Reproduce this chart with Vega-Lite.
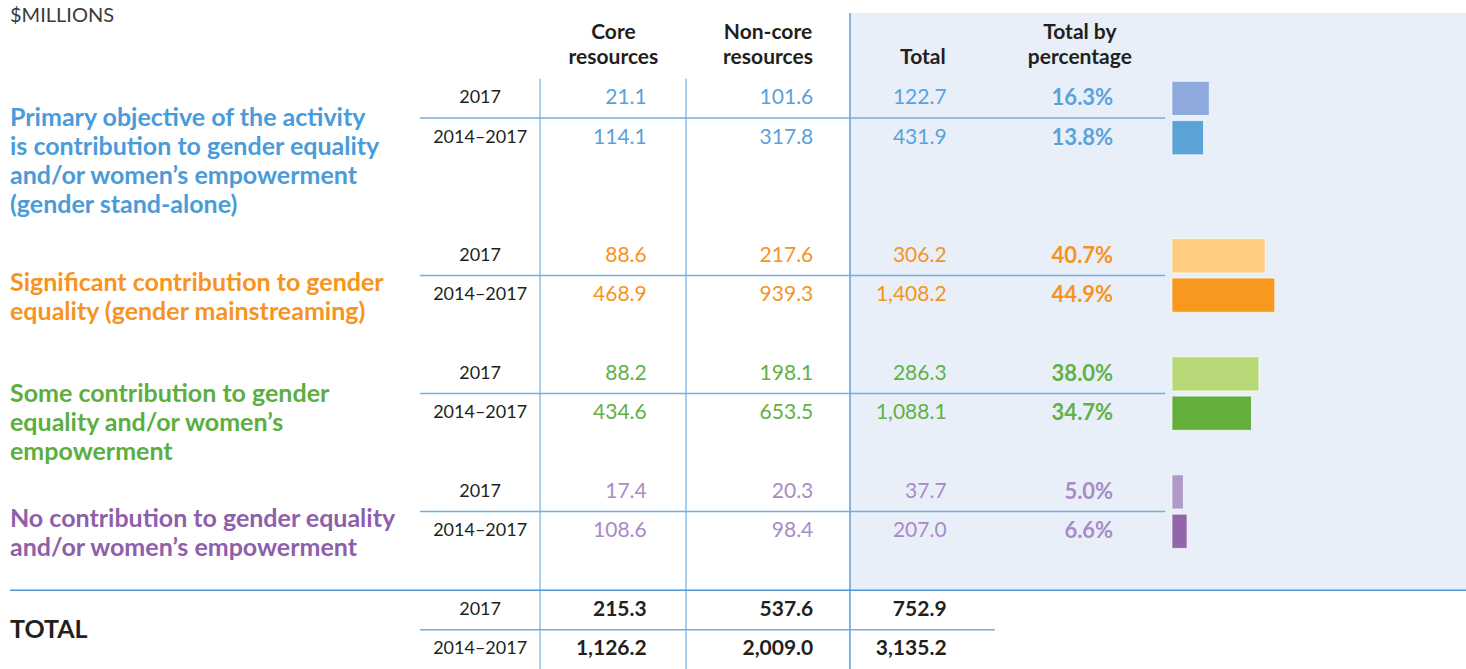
{
  "$schema": "https://vega.github.io/schema/vega-lite/v6.json",
  "width": 1466,
  "height": 669,
  "padding": 0,
  "autosize": {"type": "none"},
  "background": "#ffffff",
  "config": {
    "view": {"stroke": null},
    "axis": {"disable": true},
    "legend": {"disable": true},
    "scale": {"bandPaddingInner": 0, "bandPaddingOuter": 0},
    "text": {"font": "Lato"}
  },
  "datasets": {
    "rows": [
      {"grp": "g1", "period": "2017", "row": "g1a", "core": 21.1, "noncore": 101.6, "total": 122.7, "pct": 0.163},
      {"grp": "g1", "period": "2014–2017", "row": "g1b", "core": 114.1, "noncore": 317.8, "total": 431.9, "pct": 0.138},
      {"grp": "g2", "period": "2017", "row": "g2a", "core": 88.6, "noncore": 217.6, "total": 306.2, "pct": 0.407},
      {"grp": "g2", "period": "2014–2017", "row": "g2b", "core": 468.9, "noncore": 939.3, "total": 1408.2, "pct": 0.449},
      {"grp": "g3", "period": "2017", "row": "g3a", "core": 88.2, "noncore": 198.1, "total": 286.3, "pct": 0.380},
      {"grp": "g3", "period": "2014–2017", "row": "g3b", "core": 434.6, "noncore": 653.5, "total": 1088.1, "pct": 0.347},
      {"grp": "g4", "period": "2017", "row": "g4a", "core": 17.4, "noncore": 20.3, "total": 37.7, "pct": 0.050},
      {"grp": "g4", "period": "2014–2017", "row": "g4b", "core": 108.6, "noncore": 98.4, "total": 207.0, "pct": 0.066},
      {"grp": "tot", "period": "2017", "row": "ta", "core": 215.3, "noncore": 537.6, "total": 752.9},
      {"grp": "tot", "period": "2014–2017", "row": "tb", "core": 1126.2, "noncore": 2009.0, "total": 3135.2}
    ],
    "labels": [
      {"grp": "g1", "row": "g1b", "text": "Primary objective of the activity\nis contribution to gender equality\nand/or women’s empowerment\n(gender stand-alone)"},
      {"grp": "g2", "row": "g2b", "text": "Significant contribution to gender\nequality (gender mainstreaming)"},
      {"grp": "g3", "row": "g3b", "text": "Some contribution to gender\nequality and/or women’s\nempowerment"},
      {"grp": "g4", "row": "g4b", "text": "No contribution to gender equality\nand/or women’s empowerment"},
      {"grp": "tot", "row": "tb", "text": "TOTAL"}
    ]
  },
  "layer": [
    {
      "layer": [
        {
          "data": {"values": [{}]},
          "mark": {"type": "rect", "fill": "#e8eff9"},
          "encoding": {
            "x": {"datum": "v3", "type": "nominal", "bandPosition": 0.51, "axis": null,
              "scale": {"type": "band", "paddingInner": 0, "paddingOuter": 0, "domain": ["label","s1","s2","s3","s4","s5","s6","s7","s8","s9","s10","s11","sepL","s13","year","s15","v1","s17","coreH","core","v2","s21","s22","nonH","noncore","v3","s26","totH","total","totEnd","s30","s31","pctH","pct","sepR","s35","s36","s37","s38","s39","s40","s41","s42","right"]}},
            "x2": {"datum": "right", "bandPosition": 1},
            "y": {"datum": "t0", "type": "nominal", "bandPosition": 0.33, "axis": null,
              "scale": {"type": "band", "paddingInner": 0, "paddingOuter": 0, "domain": ["t0","h","g1a","g1b","g1c","g1d","g2a","g2b","g2c","g3a","g3b","g3c","g4a","g4b","g4c","ta","tb"]}},
            "y2": {"datum": "g4c", "bandPosition": 1}
          }
        },
        {
          "data": {"values": [{}]},
          "mark": {"type": "rule", "color": "#8fc0e8", "strokeWidth": 1.5},
          "encoding": {
            "x": {"datum": "v1", "type": "nominal", "bandPosition": 0.21},
            "y": {"datum": "g1a", "type": "nominal", "bandPosition": 0},
            "y2": {"datum": "tb", "bandPosition": 1}
          }
        },
        {
          "data": {"values": [{}]},
          "mark": {"type": "rule", "color": "#8fc0e8", "strokeWidth": 1.5},
          "encoding": {
            "x": {"datum": "v2", "type": "nominal", "bandPosition": 0.59},
            "y": {"datum": "g1a", "type": "nominal", "bandPosition": 0},
            "y2": {"datum": "tb", "bandPosition": 1}
          }
        },
        {
          "data": {"values": [{}]},
          "mark": {"type": "rule", "color": "#5b9fd8", "strokeWidth": 1.5},
          "encoding": {
            "x": {"datum": "v3", "type": "nominal", "bandPosition": 0.51},
            "y": {"datum": "t0", "type": "nominal", "bandPosition": 0.33},
            "y2": {"datum": "tb", "bandPosition": 1}
          }
        },
        {
          "data": {"name": "rows"},
          "transform": [{"filter": "datum.grp != 'tot' && datum.period == '2017'"}],
          "mark": {"type": "rule", "color": "#72aee0", "strokeWidth": 1.5},
          "encoding": {
            "y": {"field": "row", "type": "nominal", "bandPosition": 1},
            "x": {"datum": "sepL", "type": "nominal", "bandPosition": 0.61},
            "x2": {"datum": "sepR", "bandPosition": 0.97}
          }
        },
        {
          "data": {"name": "rows"},
          "transform": [{"filter": "datum.grp == 'tot' && datum.period == '2017'"}],
          "mark": {"type": "rule", "color": "#72aee0", "strokeWidth": 1.5},
          "encoding": {
            "y": {"field": "row", "type": "nominal", "bandPosition": 1},
            "x": {"datum": "sepL", "type": "nominal", "bandPosition": 0.61},
            "x2": {"datum": "totEnd", "bandPosition": 0.86}
          }
        },
        {
          "data": {"values": [{}]},
          "mark": {"type": "rule", "color": "#4a98d8", "strokeWidth": 1.5},
          "encoding": {
            "y": {"datum": "g4c", "type": "nominal", "bandPosition": 1},
            "x": {"datum": "label", "type": "nominal", "bandPosition": 0.3},
            "x2": {"datum": "right", "bandPosition": 1}
          }
        },
        {
          "data": {"values": [{}]},
          "mark": {"type": "text", "align": "left", "baseline": "middle", "fontSize": 20, "color": "#3a3a3a"},
          "encoding": {
            "x": {"datum": "label", "type": "nominal", "bandPosition": 0.3},
            "y": {"datum": "t0", "type": "nominal", "bandPosition": 0.4},
            "text": {"value": "$MILLIONS"}
          }
        },
        {
          "data": {"values": [{}]},
          "mark": {"type": "text", "align": "center", "baseline": "middle", "fontSize": 21, "fontWeight": "bold", "color": "#231f20", "lineHeight": 25},
          "encoding": {
            "x": {"datum": "coreH", "type": "nominal", "bandPosition": 0.41},
            "y": {"datum": "t0", "type": "nominal", "bandPosition": 0.84},
            "text": {"value": ["Core", "resources"]}
          }
        },
        {
          "data": {"values": [{}]},
          "mark": {"type": "text", "align": "center", "baseline": "middle", "fontSize": 21, "fontWeight": "bold", "color": "#231f20", "lineHeight": 25},
          "encoding": {
            "x": {"datum": "nonH", "type": "nominal", "bandPosition": 0.05},
            "y": {"datum": "t0", "type": "nominal", "bandPosition": 0.84},
            "text": {"value": ["Non-core", "resources"]}
          }
        },
        {
          "data": {"values": [{}]},
          "mark": {"type": "text", "align": "center", "baseline": "middle", "fontSize": 21, "fontWeight": "bold", "color": "#231f20"},
          "encoding": {
            "x": {"datum": "totH", "type": "nominal", "bandPosition": 0.7},
            "y": {"datum": "h", "type": "nominal", "bandPosition": 0.48},
            "text": {"value": "Total"}
          }
        },
        {
          "data": {"values": [{}]},
          "mark": {"type": "text", "align": "center", "baseline": "middle", "fontSize": 21, "fontWeight": "bold", "color": "#231f20", "lineHeight": 25},
          "encoding": {
            "x": {"datum": "pctH", "type": "nominal", "bandPosition": 0.41},
            "y": {"datum": "t0", "type": "nominal", "bandPosition": 0.84},
            "text": {"value": ["Total by", "percentage"]}
          }
        },
        {
          "data": {"name": "rows"},
          "mark": {"type": "text", "align": "center", "baseline": "middle", "fontSize": 18, "color": "#231f20"},
          "encoding": {
            "x": {"datum": "year", "type": "nominal", "bandPosition": 0.41},
            "y": {"field": "row", "type": "nominal"},
            "text": {"field": "period"}
          }
        },
        {
          "data": {"name": "rows"},
          "transform": [
            {"filter": "datum.grp != 'tot'"},
            {"fold": ["core", "noncore", "total"], "as": ["col", "val"]}
          ],
          "mark": {"type": "text", "align": "right", "baseline": "middle", "fontSize": 21},
          "encoding": {
            "x": {"field": "col", "type": "nominal", "bandPosition": 0.41},
            "y": {"field": "row", "type": "nominal"},
            "text": {"field": "val", "type": "quantitative", "format": ",.1f"},
            "color": {"field": "grp", "type": "nominal", "legend": null,
              "scale": {"domain": ["g1", "g2", "g3", "g4"], "range": ["#5aa2db", "#f7941d", "#62b146", "#a98bc7"]}}
          }
        },
        {
          "data": {"name": "rows"},
          "transform": [{"filter": "datum.grp != 'tot'"}],
          "mark": {"type": "text", "align": "right", "baseline": "middle", "fontSize": 22, "fontWeight": "bold"},
          "encoding": {
            "x": {"datum": "pct", "type": "nominal", "bandPosition": 0.41},
            "y": {"field": "row", "type": "nominal"},
            "text": {"field": "pct", "type": "quantitative", "format": ".1%"},
            "color": {"field": "grp", "type": "nominal", "legend": null,
              "scale": {"domain": ["g1", "g2", "g3", "g4"], "range": ["#5aa2db", "#f7941d", "#62b146", "#a98bc7"]}}
          }
        },
        {
          "data": {"name": "rows"},
          "transform": [
            {"filter": "datum.grp == 'tot'"},
            {"fold": ["core", "noncore", "total"], "as": ["col", "val"]}
          ],
          "mark": {"type": "text", "align": "right", "baseline": "middle", "fontSize": 21, "fontWeight": "bold", "color": "#231f20"},
          "encoding": {
            "x": {"field": "col", "type": "nominal", "bandPosition": 0.41},
            "y": {"field": "row", "type": "nominal"},
            "text": {"field": "val", "type": "quantitative", "format": ",.1f"}
          }
        },
        {
          "data": {"name": "labels"},
          "transform": [{"filter": "datum.grp == 'g2' || datum.grp == 'g4'"}],
          "mark": {"type": "text", "align": "left", "baseline": "middle", "fontSize": 25, "fontWeight": "bold", "lineBreak": "\n", "lineHeight": 29},
          "encoding": {
            "x": {"datum": "label", "type": "nominal", "bandPosition": 0.3},
            "y": {"field": "row", "type": "nominal", "bandPosition": 0.2},
            "text": {"field": "text"},
            "color": {"field": "grp", "type": "nominal", "legend": null,
              "scale": {"domain": ["g1", "g2", "g3", "g4", "tot"], "range": ["#4a9bd9", "#f7941d", "#5cae3f", "#8e5fab", "#231f20"]}}
          }
        },
        {
          "data": {"name": "labels"},
          "transform": [{"filter": "datum.grp == 'g1' || datum.grp == 'g3' || datum.grp == 'tot'"}],
          "mark": {"type": "text", "align": "left", "baseline": "middle", "fontSize": 25, "fontWeight": "bold", "lineBreak": "\n", "lineHeight": 29},
          "encoding": {
            "x": {"datum": "label", "type": "nominal", "bandPosition": 0.3},
            "y": {"field": "row", "type": "nominal", "bandPosition": 0},
            "text": {"field": "text"},
            "color": {"field": "grp", "type": "nominal", "legend": null,
              "scale": {"domain": ["g1", "g2", "g3", "g4", "tot"], "range": ["#4a9bd9", "#f7941d", "#5cae3f", "#8e5fab", "#231f20"]}}
          }
        }
      ],
      "resolve": {"scale": {"color": "independent"}}
    },
    {
      "data": {"name": "rows"},
      "transform": [{"filter": "datum.grp != 'tot'"}],
      "mark": {"type": "bar", "height": {"band": 0.87}, "stroke": "#ffffff", "strokeWidth": 1, "strokeOpacity": 0.7},
      "encoding": {
        "y": {"field": "row", "type": "nominal", "axis": null},
        "x": {"field": "pct", "type": "quantitative", "axis": null, "scale": {"domain": [-5.118, 1.284], "nice": false}},
        "color": {"field": "row", "type": "nominal", "legend": null,
          "scale": {"domain": ["g1a", "g1b", "g2a", "g2b", "g3a", "g3b", "g4a", "g4b"], "range": ["#8ea9db", "#5ba3d6", "#ffcc80", "#f7981f", "#b8d878", "#64ae3c", "#b09aca", "#9166ab"]}}
      }
    }
  ],
  "resolve": {"scale": {"x": "independent", "color": "independent"}}
}
